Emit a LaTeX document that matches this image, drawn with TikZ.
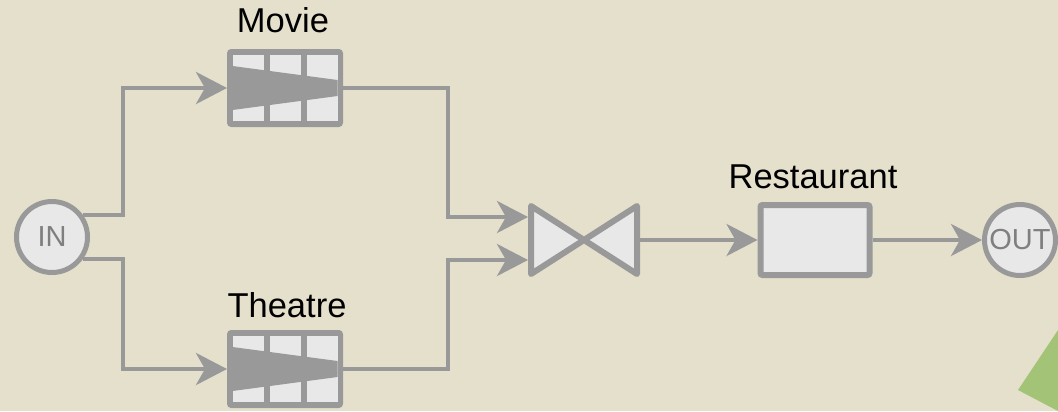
\documentclass[tikz,border=0pt]{standalone}
\usepackage{fontspec}
\setmainfont{Liberation Sans}
\usetikzlibrary{arrows.meta}

\definecolor{bgbeige}{HTML}{E4E0CC}
\definecolor{linegray}{HTML}{999999}
\definecolor{cellgray}{HTML}{E8E8E8}
\definecolor{textgray}{HTML}{7F7F7F}
\definecolor{leafgreen}{HTML}{A3C477}

\tikzset{
  wire/.style={draw=linegray, line width=4bp},
  flow/.style={wire, -{Stealth[length=31bp,width=32bp,inset=9bp]}},
  port/.style={circle, draw=linegray, fill=cellgray, line width=5bp, minimum size=71bp,
    inner sep=0pt, text=textgray, font=\fontsize{29bp}{32bp}\selectfont},
  queue/.style={rectangle, fill=linegray, rounded corners=4bp, minimum width=116bp,
    minimum height=78bp, inner sep=0pt, outer sep=0pt},
  stage/.style={rectangle, draw=linegray, fill=cellgray, line width=6bp, rounded corners=2bp,
    minimum width=109bp, minimum height=70bp, inner sep=0pt},
  lbl/.style={anchor=base, inner sep=0pt, font=\fontsize{34.5bp}{40bp}\selectfont}
}

\begin{document}
\begin{tikzpicture}[x=1bp,y=1bp]
  \def\qcells#1{%
    \foreach \cx in {-37,0,37}
      \fill[cellgray] ([shift={(\cx-15.5,-33)}]#1.center) rectangle ([shift={(\cx+15.5,33)}]#1.center);
    \fill[linegray] ([shift={(-52.5,22)}]#1.center) -- ([shift={(52.5,8)}]#1.center)
      -- ([shift={(52.5,-8)}]#1.center) -- ([shift={(-52.5,-22)}]#1.center) -- cycle;}

  \useasboundingbox (0,0) rectangle (1058,-411);
  \fill[bgbeige] (0,0) rectangle (1058,-411);

  % corner leaf
  \begin{scope}
    \clip (0,0) rectangle (1058,-411);
    \fill[leafgreen] (1018,-390) -- (1098,-270) -- (1098,-432) -- cycle;
  \end{scope}

  \node[port] (in) at (52,-237) {IN};
  \node[port] (out) at (1020,-240) {OUT};

  \node[queue] (movie) at (285,-88) {};
  \qcells{movie}
  \node[queue] (theatre) at (285,-369) {};
  \qcells{theatre}

  \node[lbl] (movielbl) at (283,-32) {Movie};
  \node[lbl] (theatrelbl) at (287,-317) {Theatre};

  % join
  \node[minimum width=112bp, minimum height=74bp, inner sep=0pt, outer sep=0pt] (bow) at (584,-240) {};
  \draw[linegray, fill=cellgray, line width=6bp, line join=round]
    ([shift={(3,-3)}]bow.north west) -- ([shift={(-3,3)}]bow.south east)
    -- ([shift={(-3,-3)}]bow.north east) -- ([shift={(3,3)}]bow.south west) -- cycle;

  \node[stage] (rest) at (815,-240) {};
  \node[lbl] (restlbl) at (813,-188) {Restaurant};

  \coordinate (split) at (123,0);
  \coordinate (jtop) at (448,-217);
  \coordinate (jbot) at (448,-260);

  \draw[flow] (in.35) -| (split |- movie.west) -- (movie.west);
  \draw[flow] (in.-35) -| (split |- theatre.west) -- (theatre.west);
  \draw[flow] (movie.east) -| (jtop) -- (jtop -| bow.west);
  \draw[flow] (theatre.east) -| (jbot) -- (jbot -| bow.west);
  \draw[flow] (bow.east) -- (rest.west);
  \draw[flow] (rest.east) -- (out.west);
\end{tikzpicture}
\end{document}
